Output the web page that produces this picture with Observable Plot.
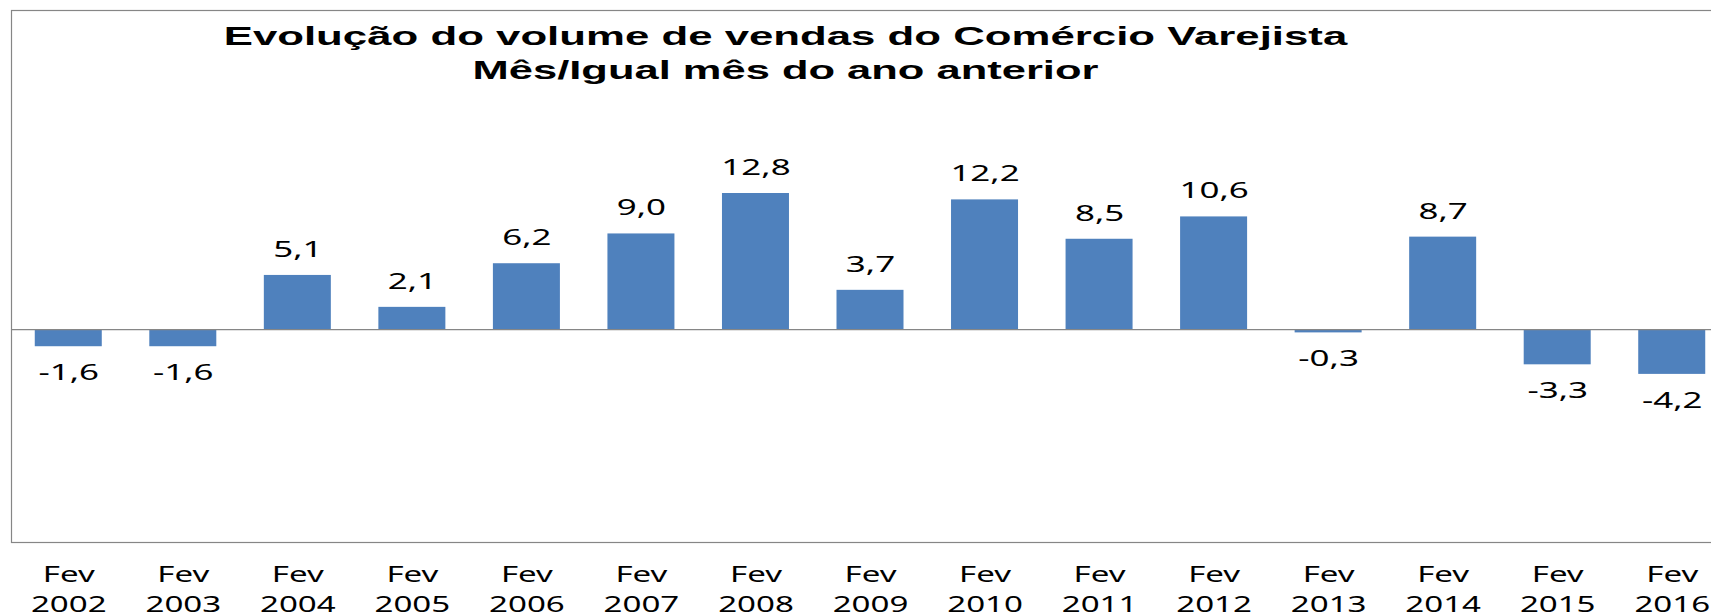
<!DOCTYPE html>
<html><head><meta charset="utf-8">
<script src="https://cdn.jsdelivr.net/npm/d3@7"></script>
<script src="https://cdn.jsdelivr.net/npm/@observablehq/plot@0.6"></script>
<style>html,body{margin:0;padding:0;background:#fff;overflow:hidden;width:1711px;height:614px}</style>
</head><body><div id="chart"></div>
<script>
const years = ["2002","2003","2004","2005","2006","2007","2008","2009","2010","2011","2012","2013","2014","2015","2016"];
const values = [-1.6,-1.6,5.1,2.1,6.2,9.0,12.8,3.7,12.2,8.5,10.6,-0.3,8.7,-3.3,-4.2];
const monthLabel = "Fev";
const titleLines = ["Evolução do volume de vendas do Comércio Varejista", "Mês/Igual mês do ano anterior"];
const yDomain = [-20, 30];

const data = years.map((yr, i) => ({cat: monthLabel + "\n" + yr, value: values[i]}));
const fmt = v => v.toFixed(1).replace(".", ",");
const labelFont = "'Noto Sans', sans-serif";
const titleFont = "'Liberation Sans', Arial, sans-serif";

const chart = Plot.plot({
  width: 1729, height: 614,
  marginLeft: 11, marginRight: 0, marginTop: 10, marginBottom: 72,
  x: {domain: data.map(d => d.cat), paddingInner: 0.415, paddingOuter: 0.2075, round: false, axis: null},
  y: {domain: yDomain, axis: null},
  style: {fontFamily: labelFont, background: "#fff", overflow: "visible"},
  marks: [
    Plot.barY(data, {x: "cat", y: "value", fill: "#4F81BD"}),
    Plot.ruleY([0], {stroke: "#868686", strokeWidth: 1.2}),
    Plot.frame({stroke: "#868686", strokeWidth: 1.2}),
    Plot.text(data.filter(d => d.value >= 0), {x: "cat", y: "value", text: d => fmt(d.value), dy: -18.5, fontSize: 21, fill: "#000"}),
    Plot.text(data.filter(d => d.value < 0), {x: "cat", y: "value", text: d => fmt(d.value), dy: 33.5, fontSize: 21, fill: "#000"}),
    Plot.text(data, {x: "cat", text: "cat", frameAnchor: "bottom", lineAnchor: "top", dy: 17.5, lineHeight: 1.46, fontSize: 21, fill: "#000"}),
    Plot.text([titleLines[0]], {text: d => d, frameAnchor: "top", lineAnchor: "top", dx: -85, dy: 34, fontSize: 26.5, fontWeight: "bold", fontFamily: titleFont, fill: "#000"}),
    Plot.text([titleLines[1]], {text: d => d, frameAnchor: "top", lineAnchor: "top", dx: -85, dy: 68.5, fontSize: 26.5, fontWeight: "bold", fontFamily: titleFont, fill: "#000"})
  ]
});
document.getElementById("chart").append(chart);
chart.style.maxWidth = "none";

function stretch(el, k) {
  let t = el.getAttribute("transform") || "";
  if (el.hasAttribute("x") || el.hasAttribute("y")) {
    const x = +el.getAttribute("x") || 0, y = +el.getAttribute("y") || 0;
    el.removeAttribute("x"); el.removeAttribute("y");
    t += ` translate(${x},${y})`;
  }
  el.setAttribute("transform", t + ` scale(${k},1)`);
}
const texts = Array.from(chart.querySelectorAll("text"));
const valueTexts = texts.filter(t => /^-?\d+,\d$/.test(t.textContent));
const axisTexts = texts.filter(t => t.textContent.startsWith(monthLabel));
const t1 = texts.find(t => t.textContent === titleLines[0]);
const t2 = texts.find(t => t.textContent === titleLines[1]);
const ref = valueTexts.find(t => t.textContent === "-1,6");
const kVal = 60.6 / ref.getComputedTextLength();
const yearSpan = Array.from(chart.querySelectorAll("tspan")).find(t => t.textContent === "2002");
const kAx = 75.7 / yearSpan.getComputedTextLength();
const k1 = 1124 / t1.getComputedTextLength();
const k2 = 626 / t2.getComputedTextLength();
valueTexts.forEach(t => stretch(t, kVal));
axisTexts.forEach(t => stretch(t, kAx));
stretch(t1, k1);
stretch(t2, k2);
</script>
</body></html>
